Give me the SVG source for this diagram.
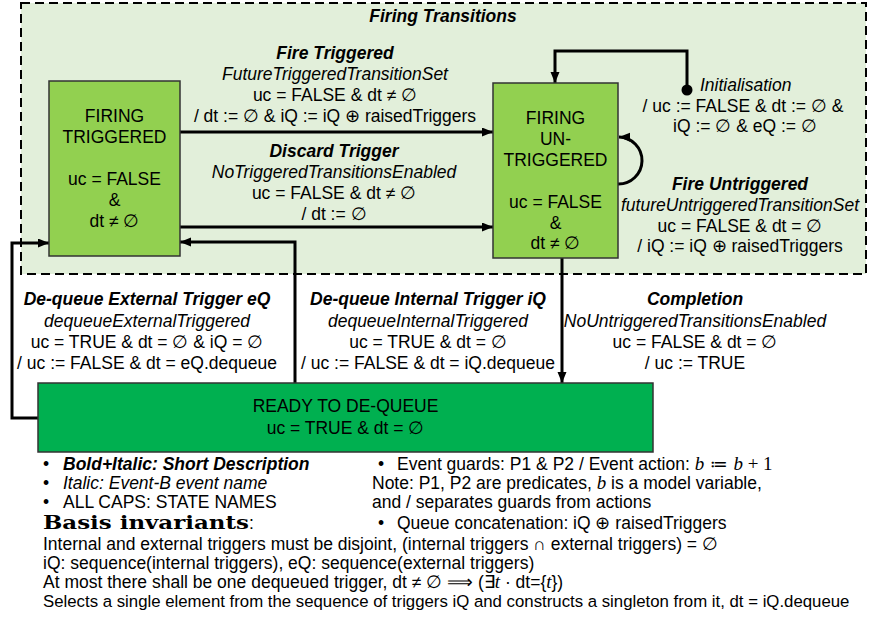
<svg xmlns="http://www.w3.org/2000/svg" width="880" height="639" viewBox="0 0 880 639">
<style>
text{font-family:"Liberation Sans",Arial,sans-serif;font-size:17.5px;fill:#000}
.c{text-anchor:middle}
.bi{font-weight:bold;font-style:italic}
.it{font-style:italic}
.m{font-family:"Liberation Serif","DejaVu Serif",serif;font-style:italic;font-size:19px}
.node{stroke:#333;stroke-width:1.5}
.conn path{fill:none;stroke:#000;stroke-width:3}
</style>
<defs>
<marker id="arr" markerUnits="userSpaceOnUse" markerWidth="12" markerHeight="10" refX="11" refY="4.5" orient="auto">
<path d="M0,0 L11,4.5 L0,9 z" fill="#000"/>
</marker>
</defs>
<rect width="880" height="639" fill="#fff"/>
<g id="frame">
<rect x="21" y="3" width="845" height="271" fill="#e2efda" stroke="#000" stroke-width="2" stroke-dasharray="9,5"/>
<text x="443" y="22" class="c bi">Firing Transitions</text>
</g>
<g id="connectors" class="conn">
<path d="M180,132 H493" marker-end="url(#arr)"/>
<path d="M180,227 H493" marker-end="url(#arr)"/>
<path d="M687,90 V51 H555 V83" marker-end="url(#arr)"/>
<circle cx="687" cy="90" r="5.5" fill="#000"/>
<path d="M618,184 A23.5,23.5 0 0 0 619,137" marker-end="url(#arr)"/>
<path d="M38,418 H12 V243 H49" marker-end="url(#arr)"/>
<path d="M295,383 V242 H180" marker-end="url(#arr)"/>
<path d="M562,258 V383" marker-end="url(#arr)"/>
</g>
<g id="firing-triggered">
<rect class="node" x="49" y="81" width="131" height="175" fill="#92d050"/>
<text x="114.5" y="122" class="c">FIRING</text>
<text x="114.5" y="143" class="c">TRIGGERED</text>
<text x="114.5" y="185" class="c">uc = FALSE</text>
<text x="114.5" y="206" class="c">&amp;</text>
<text x="114.5" y="227" class="c">dt ≠ ∅</text>
</g>
<g id="firing-untriggered">
<rect class="node" x="493" y="83" width="125" height="175" fill="#92d050"/>
<text x="555.5" y="124" class="c">FIRING</text>
<text x="555.5" y="145" class="c">UN-</text>
<text x="555.5" y="166" class="c">TRIGGERED</text>
<text x="555.5" y="208" class="c">uc = FALSE</text>
<text x="555.5" y="229" class="c">&amp;</text>
<text x="555.5" y="249" class="c">dt ≠ ∅</text>
</g>
<g id="ready-to-dequeue">
<rect class="node" x="38" y="383" width="615" height="69" fill="#00b050"/>
<text x="345.5" y="412" class="c">READY TO DE-QUEUE</text>
<text x="345.5" y="434" class="c">uc = TRUE &amp; dt = ∅</text>
</g>
<g id="label-fire-triggered">
<text x="335" y="59" class="c bi">Fire Triggered</text>
<text x="335" y="80" class="c it">FutureTriggeredTransitionSet</text>
<text x="335" y="101" class="c">uc = FALSE &amp; dt ≠ ∅</text>
<text x="335" y="122" class="c">/ dt := ∅ &amp; iQ := iQ ⊕ raisedTriggers</text>
</g>
<g id="label-discard">
<text x="334" y="157" class="c bi">Discard Trigger</text>
<text x="334" y="178" class="c it">NoTriggeredTransitionsEnabled</text>
<text x="334" y="199" class="c">uc = FALSE &amp; dt ≠ ∅</text>
<text x="334" y="220" class="c">/  dt := ∅</text>
</g>
<g id="label-init">
<text x="700" y="91" class="it">Initialisation</text>
<text x="743" y="112" class="c">/ uc := FALSE &amp; dt := ∅ &amp;</text>
<text x="745" y="132" class="c">iQ := ∅ &amp; eQ := ∅</text>
</g>
<g id="label-fire-untriggered">
<text x="740" y="190" class="c bi">Fire Untriggered</text>
<text x="740" y="211" class="c it">futureUntriggeredTransitionSet</text>
<text x="740" y="232" class="c">uc = FALSE &amp; dt = ∅</text>
<text x="740" y="252" class="c">/ iQ := iQ ⊕ raisedTriggers</text>
</g>
<g id="label-dequeue-external">
<text x="147" y="305" class="c bi">De-queue External Trigger eQ</text>
<text x="147" y="327" class="c it">dequeueExternalTriggered</text>
<text x="147" y="348" class="c">uc = TRUE &amp; dt = ∅ &amp; iQ = ∅</text>
<text x="147" y="369" class="c">/ uc := FALSE &amp; dt = eQ.dequeue</text>
</g>
<g id="label-dequeue-internal">
<text x="428" y="305" class="c bi">De-queue Internal Trigger iQ</text>
<text x="428" y="327" class="c it">dequeueInternalTriggered</text>
<text x="428" y="348" class="c">uc = TRUE &amp; dt = ∅</text>
<text x="428" y="369" class="c">/ uc := FALSE &amp; dt = iQ.dequeue</text>
</g>
<g id="label-completion">
<text x="695" y="305" class="c bi">Completion</text>
<text x="695" y="327" class="c it">NoUntriggeredTransitionsEnabled</text>
<text x="695" y="348" class="c">uc = FALSE &amp; dt = ∅</text>
<text x="695" y="369" class="c">/ uc := TRUE</text>
</g>
<g id="legend">
<text x="43" y="470">•</text>
<text x="63" y="470" class="bi">Bold+Italic: Short Description</text>
<text x="43" y="489">•</text>
<text x="63" y="489" class="it">Italic: Event-B event name</text>
<text x="43" y="508">•</text>
<text x="63" y="508">ALL CAPS: STATE NAMES</text>
<text x="43" y="529" textLength="206" lengthAdjust="spacingAndGlyphs" style="font-family:'DejaVu Serif','Liberation Serif',serif;font-weight:bold;font-size:18px">Basis invariants</text>
<text x="249" y="529">:</text>
<text x="43" y="550">Internal and external triggers must be disjoint, (internal triggers ∩ external triggers) = ∅</text>
<text x="43" y="569">iQ: sequence(internal triggers), eQ: sequence(external triggers)</text>
<text x="43" y="588">At most there shall be one dequeued trigger, dt ≠ ∅ ⟹ (∃<tspan class="m">t</tspan> · dt={<tspan class="m">t</tspan>})</text>
<text x="43" y="607" style="font-size:16.8px">Selects a single element from the sequence of triggers iQ and constructs a singleton from it, dt = iQ.dequeue</text>
<text x="378" y="470">•</text>
<text x="397" y="470">Event guards: P1 &amp; P2 / Event action: <tspan class="m">b</tspan><tspan style="font-family:'DejaVu Serif',serif"> ≔ </tspan><tspan class="m">b</tspan><tspan style="font-family:'Liberation Serif',serif;font-size:19px"> + 1</tspan></text>
<text x="372" y="489">Note: P1, P2 are predicates, <tspan class="m">b</tspan> is a model variable,</text>
<text x="372" y="508">and / separates guards from actions</text>
<text x="378" y="529">•</text>
<text x="397" y="529">Queue concatenation: iQ ⊕ raisedTriggers</text>
</g>
</svg>
